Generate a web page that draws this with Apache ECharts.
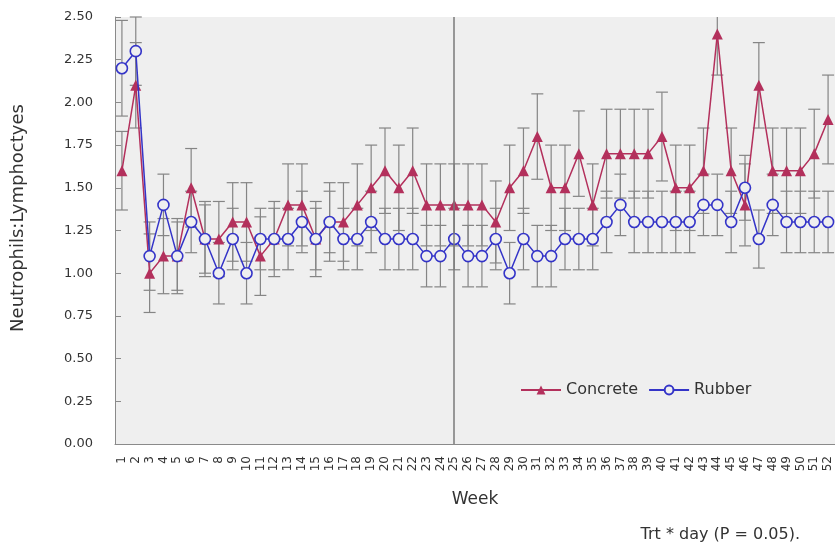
<!DOCTYPE html>
<html><head><meta charset="utf-8">
<script src="https://cdn.jsdelivr.net/npm/echarts@6/dist/echarts.min.js"></script>
<style>html,body{margin:0;padding:0;background:#fff}#c{width:835px;height:547px}</style>
</head><body><div id="c"></div>
<script>
const weeks = ['1','2','3','4','5','6','7','8','9','10','11','12','13','14','15','16','17','18','19','20','21','22','23','24','25','26',
  '27','28','29','30','31','32','33','34','35','36','37','38','39','40','41','42','43','44','45','46','47','48','49','50','51','52'];
const concrete = [1.6,2.1,1.0,1.1,1.1,1.5,1.2,1.2,1.3,1.3,1.1,1.2,1.4,1.4,1.2,1.3,1.3,1.4,1.5,1.6,1.5,1.6,1.4,1.4,1.4,1.4,
  1.4,1.3,1.5,1.6,1.8,1.5,1.5,1.7,1.4,1.7,1.7,1.7,1.7,1.8,1.5,1.5,1.6,2.4,1.6,1.4,2.1,1.6,1.6,1.6,1.7,1.9];
const rubber = [2.2,2.3,1.1,1.4,1.1,1.3,1.2,1.0,1.2,1.0,1.2,1.2,1.2,1.3,1.2,1.3,1.2,1.2,1.3,1.2,1.2,1.2,1.1,1.1,1.2,1.1,
  1.1,1.2,1.0,1.2,1.1,1.1,1.2,1.2,1.2,1.3,1.4,1.3,1.3,1.3,1.3,1.3,1.4,1.4,1.3,1.5,1.2,1.4,1.3,1.3,1.3,1.3];
const concreteErr = [0.23,0.25,0.23,0.22,0.22,0.23,0.22,0.22,0.23,0.23,0.23,0.22,0.24,0.24,0.22,0.23,0.23,0.24,0.25,0.25,0.25,0.25,0.24,0.24,0.24,0.24,
  0.24,0.24,0.25,0.25,0.25,0.25,0.25,0.25,0.24,0.26,0.26,0.26,0.26,0.26,0.25,0.25,0.25,0.24,0.25,0.24,0.25,0.25,0.25,0.25,0.26,0.26];
const rubberErr = [0.28,0.2,0.2,0.18,0.2,0.18,0.2,0.18,0.18,0.18,0.18,0.18,0.18,0.18,0.18,0.18,0.18,0.18,0.18,0.18,0.18,0.18,0.18,0.18,0.18,0.18,
  0.18,0.18,0.18,0.18,0.18,0.18,0.18,0.18,0.18,0.18,0.18,0.18,0.18,0.18,0.18,0.18,0.18,0.18,0.18,0.19,0.17,0.18,0.18,0.18,0.18,0.18];
const yTickFormat = v => v.toFixed(2);
const dividerWeek = '25';

const FONT = 'DejaVu Sans';
const cColor = '#b3305c', rColor = '#3434c8', barColor = '#858585', bg = '#efefef';

function errData(vals, errs){ return vals.map((v,i)=>[i, v-errs[i], v+errs[i]]); }
function errItem(params, api){
  const x = api.value(0);
  const cs = params.coordSys;
  let pLo = api.coord([x, api.value(1)]), pHi = api.coord([x, api.value(2)]);
  const hw = 6, style = {stroke: barColor, lineWidth: 1.2};
  const ch = [];
  const topY = cs.y, botY = cs.y + cs.height;
  const yHi = Math.max(pHi[1], topY), yLo = Math.min(pLo[1], botY);
  ch.push({type:'line', shape:{x1:pLo[0], y1:yLo, x2:pLo[0], y2:yHi}, style});
  if (pHi[1] >= topY) ch.push({type:'line', shape:{x1:pHi[0]-hw, y1:pHi[1], x2:pHi[0]+hw, y2:pHi[1]}, style});
  if (pLo[1] <= botY) ch.push({type:'line', shape:{x1:pLo[0]-hw, y1:pLo[1], x2:pLo[0]+hw, y2:pLo[1]}, style});
  return {type:'group', children: ch};
}

const chart = echarts.init(document.getElementById('c'), null, {renderer:'canvas'});
chart.setOption({
  animation: false,
  backgroundColor: '#fff',
  textStyle: {fontFamily: FONT},
  grid: {left:115, right:0, top:17, bottom:103, show:true, backgroundColor:bg, borderWidth:0},
  legend: {
    left: 515, top: 377, itemWidth: 40, itemHeight: 11, itemGap: 10,
    textStyle: {fontSize: 16, color:'#333', fontFamily: FONT},
    data: ['Concrete','Rubber']
  },
  xAxis: {
    type:'category', data: weeks, boundaryGap: true,
    axisLine: {lineStyle:{color:'#8a8a8a', width:1}},
    axisTick: {inside:true, alignWithLabel:true, length:6, interval:0, lineStyle:{color:'#8a8a8a'}},
    axisLabel: {rotate:90, interval:0, fontSize:12, color:'#333', fontFamily: FONT, margin:12},
    name: 'Week', nameLocation:'middle', nameGap:47,
    nameTextStyle: {fontSize:17, color:'#333', fontFamily: FONT}
  },
  yAxis: {
    type:'value', min:0, max:2.5, interval:0.25,
    axisLine: {show:true, lineStyle:{color:'#8a8a8a', width:1}},
    axisTick: {show:true, inside:true, length:6, lineStyle:{color:'#8a8a8a'}},
    splitLine: {show:false},
    axisLabel: {formatter: yTickFormat, fontSize:13, color:'#333', fontFamily: FONT, margin:22}
  },
  graphic: [{
    type:'text', right: 35, top: 527,
    style: {text:'Trt * day (P = 0.05).', font: '16px "DejaVu Sans"', fill:'#333'}
  }, {
    type:'text', x: 18, y: 218, rotation: Math.PI/2,
    style: {text:'Neutrophils:Lymphoctyes', font: '18px "DejaVu Sans"', fill:'#333', align:'center', verticalAlign:'middle'}
  }],
  series: [
    {type:'custom', name:'cErr', renderItem: errItem, data: errData(concrete, concreteErr), z:1, silent:true},
    {type:'custom', name:'rErr', renderItem: errItem, data: errData(rubber, rubberErr), z:1, silent:true},
    {
      type:'line', name:'Concrete', data: concrete, z:3,
      symbol:'triangle', symbolSize:11,
      lineStyle:{color:cColor, width:1.5}, itemStyle:{color:cColor},
      markLine: {
        silent:true, symbol:['none','none'], label:{show:false},
        lineStyle:{color:'#7a7a7a', type:'solid', width:1.5},
        data:[{xAxis: dividerWeek}]
      }
    },
    {
      type:'line', name:'Rubber', data: rubber, z:4,
      symbol:'circle', symbolSize:11,
      lineStyle:{color:rColor, width:1.5},
      itemStyle:{color:bg, borderColor:rColor, borderWidth:1.6}
    }
  ]
});
</script></body></html>
